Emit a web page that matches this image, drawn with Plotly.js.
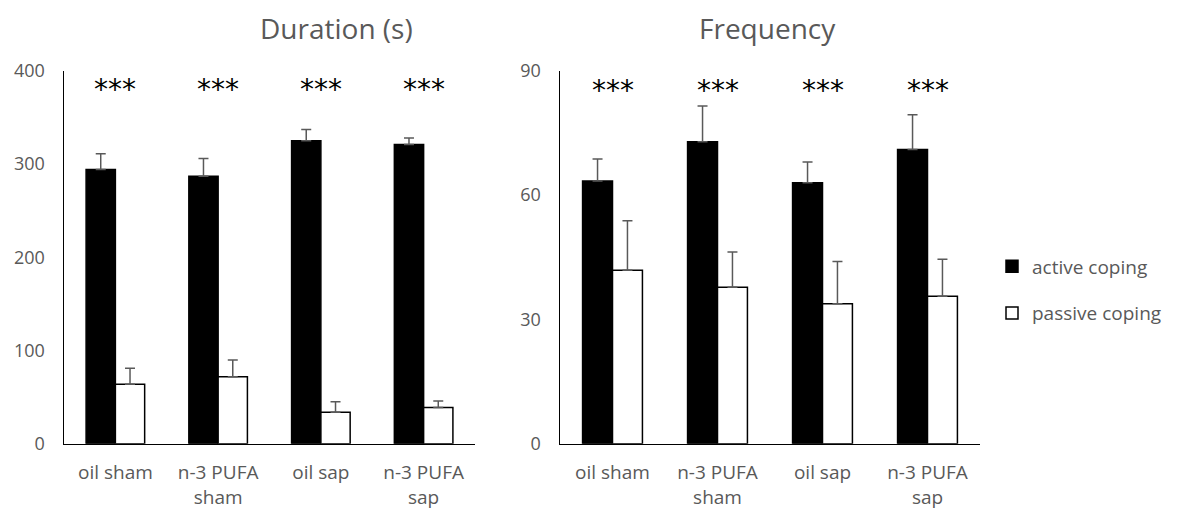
<!DOCTYPE html>
<html>
<head>
<meta charset="utf-8">
<script src="https://cdn.plot.ly/plotly-3.0.1.min.js"></script>
<style>html,body{margin:0;padding:0;background:#fff;}#chart{width:1181px;height:509px;}</style>
</head>
<body>
<div id="chart"></div>
<script>
// ---- data ----
const categories = ["oil sham", "n-3 PUFA<br>sham", "oil sap", "n-3 PUFA<br>sap"];
const seriesNames = ["active coping", "passive coping"];

const durationActive = [294, 287, 325, 321];
const durationActiveErr = [17, 19, 12, 7];
const durationPassive = [64, 72, 34, 39];
const durationPassiveErr = [17, 18, 11, 7];

const frequencyActive = [63.4, 72.9, 63.0, 71.0];
const frequencyActiveErr = [5.3, 8.6, 5.0, 8.4];
const frequencyPassive = [41.9, 37.8, 33.8, 35.6];
const frequencyPassiveErr = [11.9, 8.5, 10.2, 8.9];

const sigLabels = ["***", "***", "***", "***"];
const durationStarY = [380, 380, 380, 380];
const frequencyStarY = [85.3, 85.3, 85.3, 85.3];

const panelTitles = ["Duration (s)", "Frequency"];
const durationTicks = [0, 100, 200, 300, 400];
const frequencyTicks = [0, 30, 60, 90];

// ---- styling ----
const grey = "#595959";
const errStyle = (arr) => ({type: "data", array: arr, symmetric: false, arrayminus: arr.map(() => 0),
  color: grey, thickness: 1.5, width: 5});

function barTrace(name, y, err, fill, xa, ya, show) {
  return {
    type: "bar", name: name, x: categories, y: y, xaxis: xa, yaxis: ya,
    marker: {color: fill, line: {color: "#000", width: 1.5}},
    error_y: errStyle(err), showlegend: show, legendgroup: name, hoverinfo: "skip"
  };
}

const traces = [
  barTrace(seriesNames[0], durationActive, durationActiveErr, "#000", "x", "y", true),
  barTrace(seriesNames[1], durationPassive, durationPassiveErr, "#fff", "x", "y", true),
  barTrace(seriesNames[0], frequencyActive, frequencyActiveErr, "#000", "x2", "y2", false),
  barTrace(seriesNames[1], frequencyPassive, frequencyPassiveErr, "#fff", "x2", "y2", false)
];

const starFont = {family: "DejaVu Sans", size: 28, color: "#000"};
const annotations = [];
categories.forEach((c, i) => {
  annotations.push({x: c, y: durationStarY[i], xref: "x", yref: "y", text: sigLabels[i],
    showarrow: false, yanchor: "middle", yshift: 0, font: starFont});
  annotations.push({x: c, y: frequencyStarY[i], xref: "x2", yref: "y2", text: sigLabels[i],
    showarrow: false, yanchor: "middle", yshift: 0, font: starFont});
});
const titleFont = {family: "Open Sans", size: 28, color: grey};
annotations.push({x: 258 / 1181, y: 1 - 28 / 509, xref: "paper", yref: "paper", text: panelTitles[0],
  showarrow: false, yanchor: "middle", font: titleFont});
annotations.push({x: 768 / 1181, y: 1 - 28 / 509, xref: "paper", yref: "paper", text: panelTitles[1],
  showarrow: false, yanchor: "middle", font: titleFont});

const xTickFont = {family: "Open Sans", size: 19, color: grey};
const yTickFont = {family: "Open Sans", size: 18, color: grey};
const xAxisBase = {type: "category", showline: true, linecolor: "#000", linewidth: 1.5,
  showgrid: false, zeroline: false, ticks: "", tickfont: xTickFont, automargin: false,
  ticklabelstandoff: 11, fixedrange: true};
const yAxisBase = {showline: true, linecolor: "#000", linewidth: 1.5, showgrid: false,
  zeroline: false, ticks: "", tickfont: yTickFont, automargin: false, ticklabelstandoff: 14,
  fixedrange: true, domain: [0.128, 0.861]};

const layout = {
  width: 1181, height: 509,
  margin: {l: 0, r: 0, t: 0, b: 0},
  paper_bgcolor: "#fff", plot_bgcolor: "#fff",
  barmode: "group", bargap: 0.43, bargroupgap: 0,
  font: {family: "Open Sans", color: grey},
  xaxis: Object.assign({}, xAxisBase, {domain: [64 / 1181, 475 / 1181], anchor: "y"}),
  yaxis: Object.assign({}, yAxisBase, {range: [0, 400], tickvals: durationTicks, anchor: "x"}),
  xaxis2: Object.assign({}, xAxisBase, {domain: [560 / 1181, 980 / 1181], anchor: "y2"}),
  yaxis2: Object.assign({}, yAxisBase, {range: [0, 90], tickvals: frequencyTicks, anchor: "x2"}),
  legend: {x: 992 / 1181, xanchor: "left", y: 1 - 290 / 509, yanchor: "middle",
    font: {family: "Open Sans", size: 19, color: grey}, traceorder: "grouped",
    tracegroupgap: 19, bgcolor: "rgba(0,0,0,0)"},
  annotations: annotations,
  showlegend: true
};

Plotly.newPlot("chart", traces, layout, {staticPlot: true, displayModeBar: false});
</script>
</body>
</html>
